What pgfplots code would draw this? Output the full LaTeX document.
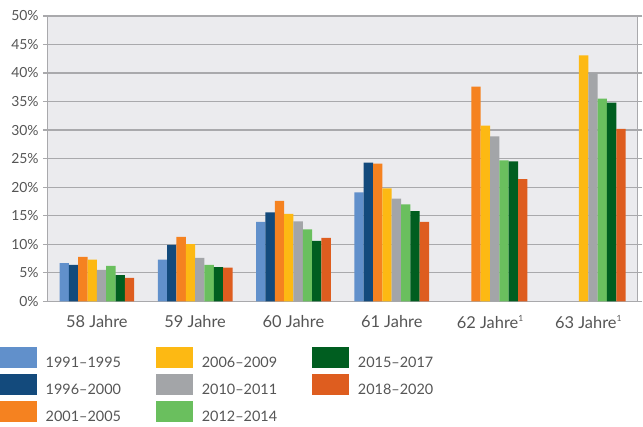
\documentclass[border=0pt]{standalone}
\usepackage{fontspec}
\setmainfont{Lato}
\usepackage{pgfplots}
\pgfplotsset{compat=1.18}
\definecolor{cA}{HTML}{6190CB}
\definecolor{cB}{HTML}{134A7C}
\definecolor{cC}{HTML}{F58220}
\definecolor{cD}{HTML}{FDB913}
\definecolor{cE}{HTML}{A3A5A8}
\definecolor{cF}{HTML}{6ABF5E}
\definecolor{cG}{HTML}{005E20}
\definecolor{cH}{HTML}{DE5D1F}
\definecolor{bgc}{HTML}{EBEBEE}
\definecolor{gridc}{HTML}{A9A9AC}
\definecolor{txt}{HTML}{555555}
\newcommand{\supone}{\raisebox{0.75ex}{\fontsize{8.5}{9}\selectfont 1}}
\pgfplotsset{/pgfplots/ybar legend/.style={/pgfplots/legend image code/.code={%
  \fill[##1,draw=none] (0pt,-4.75pt) rectangle (37pt,16.25pt);
  \path (46pt,0pt);}}}
\begin{document}
\begin{tikzpicture}
\begin{axis}[
  name=ax,
  scale only axis, width=593pt, height=287pt,
  xmin=-0.5, xmax=5.5, ymin=0, ymax=50,
  ybar=0pt, bar width=0.095,
  axis background/.style={fill=bgc},
  axis line style={draw=gridc, line width=1.4pt},
  ytick={0,5,...,50},
  yticklabel={\pgfmathprintnumber{\tick}\%},
  ymajorgrids, grid style={draw=gridc, line width=1.2pt},
  xtick={0,1,2,3,4,5},
  xticklabels={58 Jahre, 59 Jahre, 60 Jahre, 61 Jahre, 62 Jahre\supone, 63 Jahre\supone},
  xtick style={draw=none},
  ytick style={draw=gridc, line width=1.2pt},
  tick align=outside, major tick length=5pt,
  yticklabel style={inner xsep=4pt, font=\fontsize{14}{17}\selectfont},
  xticklabel style={yshift=-6pt, font=\fontsize{16.5}{19}\selectfont},
  ticklabel style={text=txt},
  /pgf/number format/assume math mode=true,
  legend columns=3, transpose legend,
  legend style={at={(0,0)}, anchor=north west, xshift=-48pt, yshift=-46pt,
    draw=none, fill=none, inner sep=0pt, outer sep=0pt,
    column sep=0pt, row sep=5pt,
    nodes={inner sep=0pt, outer sep=0pt},
    font=\fontsize{14.5}{17}\selectfont, text=txt},
  legend cell align=left,
]
\addplot[fill=cA, draw=none] coordinates {(0,6.7) (1,7.3) (2,13.9) (3,19.1)};
\addplot[fill=cB, draw=none] coordinates {(0,6.4) (1,9.9) (2,15.6) (3,24.3)};
\addplot[fill=cC, draw=none] coordinates {(0,7.8) (1,11.3) (2,17.6) (3,24.1) (4,37.6)};
\addplot[fill=cD, draw=none] coordinates {(0,7.3) (1,10.0) (2,15.3) (3,19.8) (4,30.8) (5,43.1)};
\addplot[fill=cE, draw=none] coordinates {(0,5.5) (1,7.6) (2,14.0) (3,18.0) (4,28.9) (5,40.0)};
\addplot[fill=cF, draw=none] coordinates {(0,6.2) (1,6.4) (2,12.6) (3,17.0) (4,24.7) (5,35.5)};
\addplot[fill=cG, draw=none] coordinates {(0,4.6) (1,6.0) (2,10.6) (3,15.8) (4,24.5) (5,34.8)};
\addplot[fill=cH, draw=none] coordinates {(0,4.1) (1,5.9) (2,11.1) (3,13.9) (4,21.4) (5,30.2)};
\addlegendentry{\makebox[111pt][l]{1991--1995}}
\addlegendentry{\makebox[111pt][l]{1996--2000}}
\addlegendentry{\makebox[111pt][l]{2001--2005}}
\addlegendentry{\makebox[111pt][l]{2006--2009}}
\addlegendentry{\makebox[111pt][l]{2010--2011}}
\addlegendentry{\makebox[111pt][l]{2012--2014}}
\addlegendentry{\makebox[111pt][l]{2015--2017}}
\addlegendentry{2018--2020}
\end{axis}
\path (ax.north west) ++(0,16pt);
\path (ax.south west) ++(0,-126pt);
\end{tikzpicture}
\end{document}
